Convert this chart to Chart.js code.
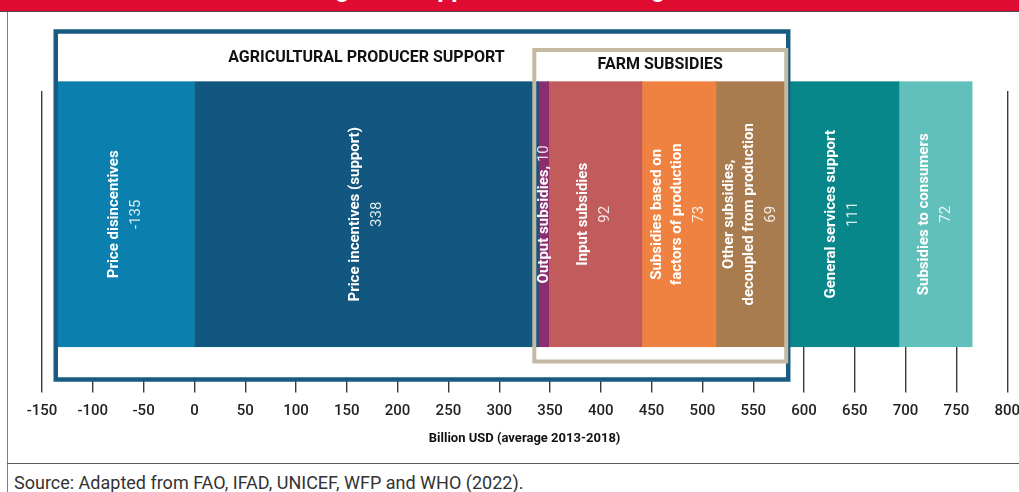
<!DOCTYPE html>
<html>
<head>
<meta charset="utf-8">
<script src="https://cdn.jsdelivr.net/npm/chart.js@4.4.1/dist/chart.umd.min.js"></script>
<style>
  html, body { margin: 0; padding: 0; background: #fff; overflow: hidden; }
  #page { position: relative; width: 1019px; height: 492px; overflow: hidden; font-family: Roboto, sans-serif; }
  .band { position: absolute; left: 0; top: 0; width: 1019px; height: 11px; background: #e00b30; border-bottom: 1px solid #4a4a4a; overflow: hidden; }
  .band span { position: absolute; left: 273px; top: -24px; font: bold 25px/25px Roboto, sans-serif; color: #fff; white-space: nowrap; }
  .vline { position: absolute; left: 7px; top: 12px; width: 1px; height: 480px; background: #808080; }
  .hline { position: absolute; left: 7px; top: 463px; width: 1012px; height: 1px; background: #5a5a5a; }
  .source { position: absolute; left: 14px; top: 472px; font: 18px/21px Roboto, sans-serif; color: #333; white-space: nowrap; }
  canvas { position: absolute; left: 0; top: 0; }
</style>
</head>
<body>
<div id="page">
  <div class="band"><span>Total global support to food and agriculture</span></div>
  <div class="vline"></div>
  <div class="hline"></div>
  <div class="source">Source: Adapted from FAO, IFAD, UNICEF, WFP and WHO (2022).</div>
  <canvas id="chart" width="1030" height="492"></canvas>
</div>
<script>
// ==========================
// DATA
// ==========================
const categories = [
  "Price disincentives",
  "Price incentives (support)",
  "Output subsidies",
  "Input subsidies",
  "Subsidies based on factors of production",
  "Other subsidies, decoupled from production",
  "General services support",
  "Subsidies to consumers"
];
const values = [-135, 338, 10, 92, 73, 69, 111, 72];
const labelLines = [
  ["Price disincentives"],
  ["Price incentives (support)"],
  ["Output subsidies,"],
  ["Input subsidies"],
  ["Subsidies based on", "factors of production"],
  ["Other subsidies,", "decoupled from production"],
  ["General services support"],
  ["Subsidies to consumers"]
];
const colors = ["#0b7fae", "#12577f", "#8b2d6f", "#c25b5b", "#f08241", "#a97c50", "#078789", "#62c0bc"];

const xMin = -150;
const xMax = 800;
const xStep = 50;
const xTitle = "Billion USD (average 2013-2018)";

// groups drawn as framed boxes (dataset indexes)
const producerGroup = { title: "AGRICULTURAL PRODUCER SUPPORT", from: 0, to: 5 };
const farmGroup = { title: "FARM SUBSIDIES", from: 2, to: 5 };

// ==========================
// HELPER
// ==========================
function barEl(chart, i) {
  return chart.getDatasetMeta(i).data[0];
}

function groupSpan(chart, g) {
  let left = Infinity, right = -Infinity;
  for (let i = g.from; i <= g.to; i++) {
    const el = barEl(chart, i);
    left = Math.min(left, el.x, el.base);
    right = Math.max(right, el.x, el.base);
  }
  return { left, right };
}

function boxRect(chart) {
  const p = groupSpan(chart, producerGroup);
  const f = groupSpan(chart, farmGroup);
  return {
    producer: { x1: p.left - 1.5, x2: p.right + 2.5, y1: 31.5, y2: 379.5 },
    farm: { x1: f.left - 3.5, x2: f.right + 0.5, y1: 50, y2: 361.5 }
  };
}

// ==========================
// PLUGIN: BOXES + LABELS
// ==========================
const boxPlugin = {
  id: "boxes",
  beforeDatasetsDraw(chart) {
    const ctx = chart.ctx;
    const r = boxRect(chart);
    ctx.save();
    ctx.fillStyle = "#fff";
    [r.producer, r.farm].forEach(b => ctx.fillRect(b.x1, b.y1, b.x2 - b.x1, b.y2 - b.y1));

    ctx.fillStyle = "#111";
    ctx.textAlign = "center";
    ctx.textBaseline = "middle";
    ctx.font = "bold 16px Roboto";
    const inc = barEl(chart, 1);
    ctx.fillText(producerGroup.title, (inc.x + inc.base) / 2, 58);
    ctx.fillText(farmGroup.title, (r.farm.x1 + r.farm.x2) / 2, 65);
    ctx.restore();
  },
  afterDatasetsDraw(chart) {
    const ctx = chart.ctx;
    ctx.save();
    ctx.textAlign = "center";
    ctx.textBaseline = "middle";

    values.forEach((v, i) => {
      const el = barEl(chart, i);
      const cx = (el.x + el.base) / 2;
      const cy = el.y;
      const lines = labelLines[i];

      ctx.save();
      ctx.translate(cx, cy);
      ctx.rotate(-Math.PI / 2);

      if (i === 2) {
        // narrow bar: name and value on one line
        ctx.font = "bold 15px Roboto";
        const a = lines[0];
        const wa = ctx.measureText(a).width;
        ctx.font = "15px Roboto";
        const b = " " + v;
        const wb = ctx.measureText(b).width;
        const start = -(wa + wb) / 2;
        ctx.textAlign = "left";
        ctx.font = "bold 15px Roboto";
        ctx.fillStyle = "#fff";
        ctx.fillText(a, start, 1);
        ctx.font = "15px Roboto";
        ctx.fillStyle = "rgba(255,255,255,0.85)";
        ctx.fillText(b, start + wa, 1);
      } else {
        const offs = lines.map((l, k) => k * 20);
        const valOff = offs[offs.length - 1] + 22;
        const shift = valOff / 2;
        ctx.font = "bold 15px Roboto";
        ctx.fillStyle = "#fff";
        lines.forEach((l, k) => ctx.fillText(l, 0, offs[k] - shift));
        ctx.font = "15px Roboto";
        ctx.fillStyle = "rgba(255,255,255,0.85)";
        ctx.fillText(String(v), 0, valOff - shift);
      }
      ctx.restore();
    });

    // box borders sit on top of the bars
    const r = boxRect(chart);
    ctx.lineWidth = 4.5;
    ctx.strokeStyle = "#1a5b82";
    ctx.strokeRect(r.producer.x1, r.producer.y1, r.producer.x2 - r.producer.x1, r.producer.y2 - r.producer.y1);
    ctx.lineWidth = 4;
    ctx.strokeStyle = "#c4b9a1";
    ctx.strokeRect(r.farm.x1, r.farm.y1, r.farm.x2 - r.farm.x1, r.farm.y2 - r.farm.y1);
    ctx.restore();
  }
};

// ==========================
// CHART
// ==========================
const ctx = document.getElementById("chart");

new Chart(ctx, {
  type: "bar",
  data: {
    labels: ["support"],
    datasets: categories.map((c, i) => ({
      label: c,
      data: [values[i]],
      backgroundColor: colors[i],
      borderColor: colors[i],
      borderWidth: 0.5,
      borderSkipped: false,
      inflateAmount: 1,
      barThickness: 264,
      clip: false
    }))
  },
  options: {
    indexAxis: "y",
    responsive: false,
    animation: false,
    layout: { padding: { top: 91, left: 42, right: 2, bottom: 45.4 } },
    plugins: {
      legend: { display: false },
      tooltip: { enabled: false }
    },
    scales: {
      x: {
        type: "linear",
        stacked: true,
        min: xMin,
        max: xMax,
        ticks: {
          stepSize: xStep,
          padding: 10,
          color: "#222",
          font: { family: "Roboto", size: 15, weight: "500" }
        },
        grid: {
          color: "#3a3a3a",
          lineWidth: 1.4,
          tickLength: 55,
          tickColor: "#3a3a3a",
          tickWidth: 1.4
        },
        border: { display: false },
        title: {
          display: true,
          text: xTitle,
          color: "#111",
          font: { family: "Roboto", size: 13, weight: "bold" },
          padding: { top: 0.4, bottom: 0 }
        }
      },
      y: {
        stacked: true,
        display: false
      }
    }
  },
  plugins: [boxPlugin]
});
</script>
</body>
</html>
